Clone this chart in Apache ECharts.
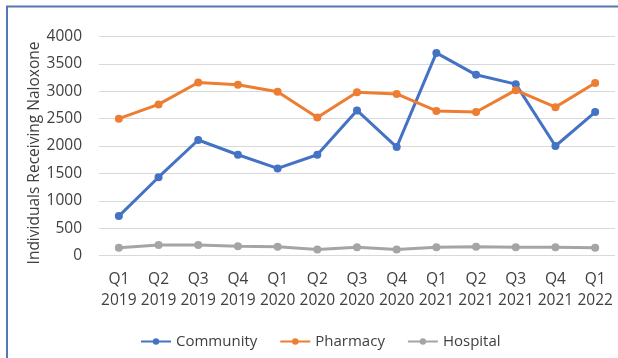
<!DOCTYPE html>
<html>
<head>
<meta charset="utf-8">
<script src="https://cdn.jsdelivr.net/npm/echarts@6/dist/echarts.min.js"></script>
<style>
html,body{margin:0;padding:0;background:#fff;}
#c{width:618px;height:358px;}
</style>
</head>
<body>
<div id="c"></div>
<script>
var categories = ['Q1\n2019','Q2\n2019','Q3\n2019','Q4\n2019','Q1\n2020','Q2\n2020','Q3\n2020','Q4\n2020','Q1\n2021','Q2\n2021','Q3\n2021','Q4\n2021','Q1\n2022'];
var community = [720, 1430, 2110, 1840, 1590, 1840, 2650, 1980, 3700, 3300, 3130, 2000, 2620];
var pharmacy = [2500, 2760, 3160, 3120, 2990, 2520, 2980, 2950, 2640, 2620, 3020, 2710, 3150];
var hospital = [140, 190, 190, 170, 160, 110, 150, 110, 150, 160, 150, 150, 140];
var seriesNames = ['Community', 'Pharmacy', 'Hospital'];
var yAxisTitle = 'Individuals Receiving Naloxone';

var colors = ['#4472C4', '#ED7D31', '#A5A5A5'];
var font = 'Open Sans';
var txt = '#404040';
var chart = echarts.init(document.getElementById('c'), null, {renderer: 'canvas'});
function mk(name, data, color) {
  return {
    name: name, type: 'line', data: data,
    symbol: 'circle', symbolSize: 8,
    lineStyle: {width: 3, color: color},
    itemStyle: {color: color},
    animation: false
  };
}
chart.setOption({
  animation: false,
  backgroundColor: '#fff',
  graphic: [{
    type: 'rect', shape: {x: 7, y: 6.5, width: 700, height: 500},
    style: {fill: 'none', stroke: '#5478B5', lineWidth: 2}, z: 100
  }],
  grid: {left: 99, right: 3, top: 36.5, bottom: 102.5, containLabel: false},
  legend: {
    data: seriesNames, left: 135, top: 329,
    itemWidth: 30, itemHeight: 8, itemGap: 22,
    textStyle: {fontFamily: font, fontSize: 15, color: txt}
  },
  xAxis: {
    type: 'category', data: categories, boundaryGap: true,
    axisLine: {show: false}, axisTick: {show: false},
    axisLabel: {fontFamily: font, fontSize: 15.5, color: txt, lineHeight: 21, margin: 14, interval: 0}
  },
  yAxis: {
    type: 'value', min: 0, max: 4000, interval: 500,
    name: yAxisTitle, nameLocation: 'middle', nameRotate: 90, nameGap: 56,
    nameMoveOverlap: false,
    nameTextStyle: {fontFamily: font, fontSize: 15.5, color: txt, padding: [0, 14, 0, 0]},
    axisLine: {show: false}, axisTick: {show: false},
    axisLabel: {fontFamily: font, fontSize: 15.5, color: txt, margin: 17, formatter: function (v) { return String(v); }},
    splitLine: {lineStyle: {color: '#D9D9D9', width: 1}}
  },
  series: [
    mk(seriesNames[0], community, colors[0]),
    mk(seriesNames[1], pharmacy, colors[1]),
    mk(seriesNames[2], hospital, colors[2])
  ]
});
</script>
</body>
</html>
